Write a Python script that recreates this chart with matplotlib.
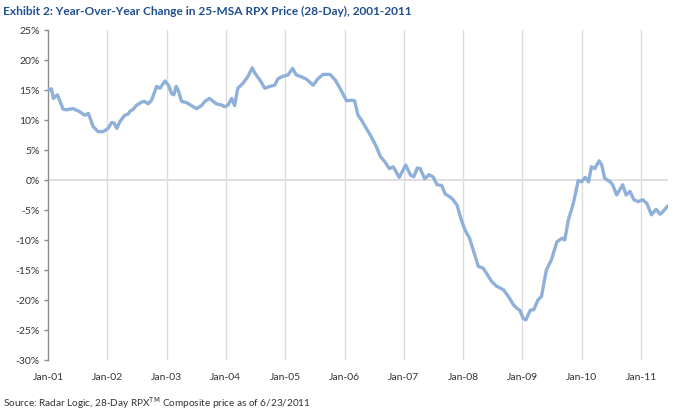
import matplotlib
matplotlib.use("Agg")
import matplotlib.pyplot as plt
import pandas as pd

# Year-over-year change (%)
dates = [
    '2001-01-01', '2001-01-10', '2001-01-22', '2001-02-03', '2001-02-28', '2001-03-13',
    '2001-04-04', '2001-04-25', '2001-06-04', '2001-07-15', '2001-08-15', '2001-09-06',
    '2001-09-15', '2001-10-06', '2001-11-06', '2001-12-06', '2002-01-06', '2002-01-28',
    '2002-02-12', '2002-03-01', '2002-03-19', '2002-04-19', '2002-05-10', '2002-05-19',
    '2002-06-10', '2002-06-28', '2002-08-01', '2002-08-19', '2002-09-10', '2002-10-01',
    '2002-11-01', '2002-11-22', '2002-12-22', '2003-01-13', '2003-02-01', '2003-02-15',
    '2003-03-01', '2003-03-13', '2003-04-04', '2003-05-04', '2003-06-04', '2003-07-04',
    '2003-08-04', '2003-08-25', '2003-09-22', '2003-10-15', '2003-11-04', '2003-12-06',
    '2003-12-25', '2004-01-15', '2004-02-06', '2004-02-24', '2004-03-15', '2004-04-15',
    '2004-05-15', '2004-06-12', '2004-06-28', '2004-07-28', '2004-08-28', '2004-09-28',
    '2004-10-28', '2004-11-18', '2004-12-18', '2005-01-18', '2005-02-15', '2005-03-10',
    '2005-04-10', '2005-05-12', '2005-06-22', '2005-07-22', '2005-08-22', '2005-10-04',
    '2005-11-04', '2005-12-04', '2005-12-25', '2006-01-13', '2006-02-15', '2006-03-04',
    '2006-03-25', '2006-04-15', '2006-05-15', '2006-06-15', '2006-07-15', '2006-08-10',
    '2006-09-06', '2006-10-04', '2006-10-28', '2006-12-04', '2007-01-13', '2007-02-12',
    '2007-03-04', '2007-03-25', '2007-04-12', '2007-05-10', '2007-06-06', '2007-07-01',
    '2007-07-25', '2007-08-22', '2007-09-12', '2007-10-12', '2007-11-01', '2007-11-25',
    '2007-12-22', '2008-01-12', '2008-02-10', '2008-03-04', '2008-04-04', '2008-05-04',
    '2008-05-25', '2008-06-25', '2008-07-25', '2008-09-06', '2008-10-06', '2008-11-06',
    '2008-11-28', '2008-12-15', '2009-01-06', '2009-01-22', '2009-02-18', '2009-03-12',
    '2009-04-06', '2009-04-28', '2009-05-28', '2009-06-28', '2009-08-01', '2009-09-01',
    '2009-09-18', '2009-10-10', '2009-11-10', '2009-12-10', '2010-01-01', '2010-01-22',
    '2010-02-12', '2010-03-01', '2010-03-22', '2010-04-18', '2010-05-04', '2010-05-22',
    '2010-06-25', '2010-07-10', '2010-08-04', '2010-09-10', '2010-10-01', '2010-10-25',
    '2010-11-18', '2010-12-15', '2011-01-12', '2011-02-06', '2011-03-06', '2011-04-04',
    '2011-04-28', '2011-05-15', '2011-06-12',
]
yoy_change = [
    15.0, 15.0, 15.2, 13.6, 14.2, 13.3,
    11.8, 11.7, 11.9, 11.4, 10.8, 11.1,
    10.5, 8.9, 8.05, 8.05, 8.6, 9.6,
    9.5, 8.6, 9.7, 10.8, 11.0, 11.4,
    11.8, 12.4, 13.0, 13.1, 12.7, 13.3,
    15.6, 15.3, 16.5, 15.8, 14.4, 14.2,
    15.6, 15.0, 13.1, 12.9, 12.4, 11.9,
    12.4, 13.1, 13.6, 13.1, 12.7, 12.5,
    12.2, 12.5, 13.6, 12.4, 15.3, 16.1,
    17.2, 18.7, 17.8, 16.7, 15.3, 15.6,
    15.8, 16.9, 17.3, 17.5, 18.6, 17.5,
    17.2, 16.8, 15.8, 16.9, 17.6, 17.6,
    16.7, 15.3, 14.2, 13.2, 13.3, 13.2,
    10.8, 10.0, 8.6, 7.2, 5.6, 3.9,
    3.05, 1.9, 2.2, 0.44, 2.5, 0.8,
    0.55, 2.0, 1.9, 0.2, 0.9, 0.5,
    -0.8, -0.9, -2.3, -2.8, -3.3, -4.2,
    -6.7, -8.3, -9.7, -11.7, -14.4, -14.7,
    -15.6, -16.9, -17.7, -18.3, -19.4, -20.8,
    -21.4, -21.7, -23.1, -23.3, -21.7, -21.6,
    -20.0, -19.4, -15.0, -13.3, -10.3, -9.7,
    -10.0, -6.7, -3.9, -0.1, -0.3, 0.44,
    -0.3, 2.2, 1.9, 3.2, 2.5, 0.3,
    -0.3, -0.8, -2.5, -0.8, -2.5, -1.9,
    -3.3, -3.6, -3.3, -3.9, -5.8, -4.9,
    -5.7, -5.3, -4.4,
]
tick_years = list(range(2001, 2012))
y_ticks = list(range(-30, 26, 5))

df = pd.DataFrame({'date': pd.to_datetime(dates), 'yoy': yoy_change})

fig = plt.figure(figsize=(6.8, 4.13), dpi=100)
ax = fig.add_axes([48 / 680, 1 - 360 / 413, 620 / 680, 330 / 413])

ax.plot(df['date'], df['yoy'], color='#8eb0d9', linewidth=2.4, solid_joinstyle='round', zorder=3)

ax.set_xlim(pd.Timestamp('2001-01-01'), pd.Timestamp('2011-06-16'))
ax.set_ylim(-30, 25)

xt = [pd.Timestamp(f'{y}-01-01') for y in tick_years]
ax.set_xticks(xt)
ax.set_xticklabels([f'Jan-{str(y)[2:]}' for y in tick_years])
ax.set_yticks(y_ticks)
ax.set_yticklabels([f'{v}%' for v in y_ticks])

# vertical gridlines at each January, plus the zero line
for t in xt[1:]:
    ax.axvline(t, color='#dcdcdc', linewidth=1.0, zorder=1)
ax.axhline(0, color='#dcdcdc', linewidth=1.3, zorder=1)

for s in ['top', 'right', 'bottom']:
    ax.spines[s].set_visible(False)
ax.spines['left'].set_color('#8c8c8c')
ax.spines['left'].set_linewidth(1.0)

ax.tick_params(axis='y', direction='out', length=3, width=1, color='#8c8c8c',
               labelsize=7.5, labelcolor='#333333', pad=3)
ax.tick_params(axis='x', length=0, labelsize=7.5, labelcolor='#333333', pad=9)

for lab in ax.get_xticklabels() + ax.get_yticklabels():
    lab.set_family('Lato')

fig.text(0.004, 1 - 11 / 413, 'Exhibit 2: Year-Over-Year Change in 25-MSA RPX Price (28-Day), 2001-2011',
         fontsize=8.6, fontweight='bold', color='#1f4f8f', family='Lato', va='center', ha='left')
fig.text(0.005, 1 - 403 / 413, r'Source: Radar Logic, 28-Day RPX$^{\mathrm{TM}}$ Composite price as of 6/23/2011',
         fontsize=7.2, color='#333333', family='Lato', va='center', ha='left')

fig.savefig('out.png', dpi=100)
